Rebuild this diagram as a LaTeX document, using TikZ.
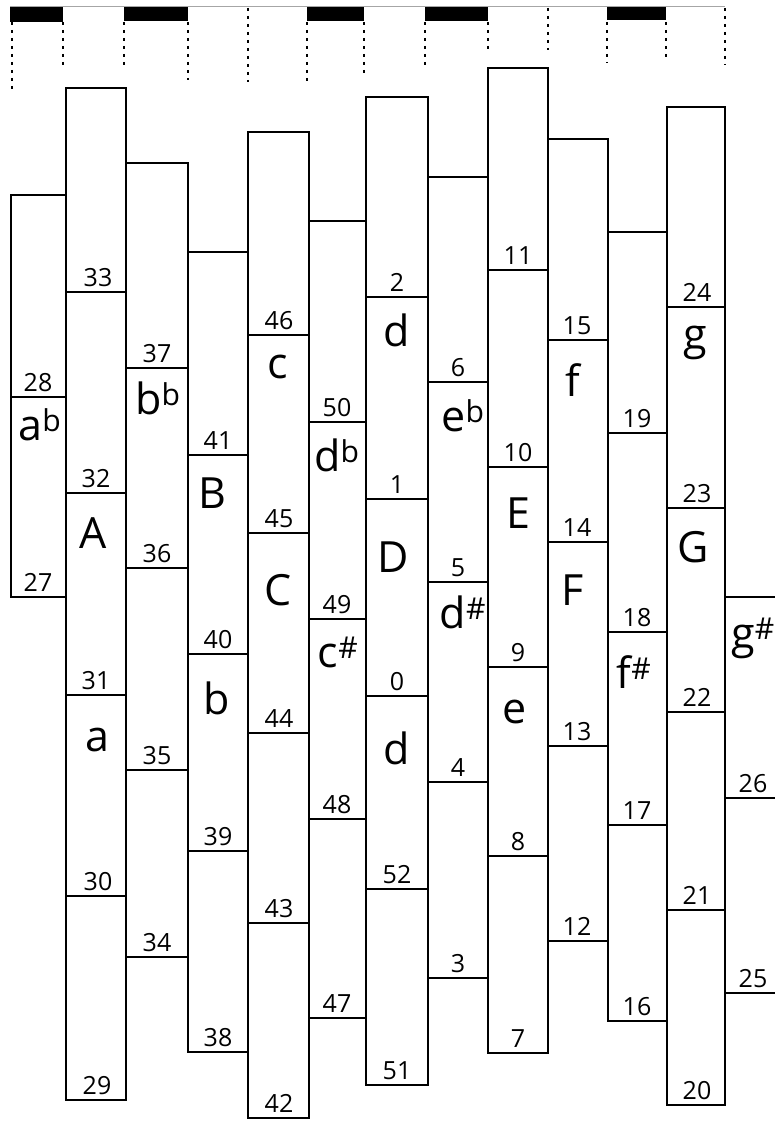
\documentclass[tikz,border=0pt]{standalone}
\usepackage{fontspec}
\setmainfont{Open Sans}
\begin{document}
\begin{tikzpicture}[
    x=1pt, y=-1pt,
    strip/.style={draw, line width=1.6pt},
    guia/.style={draw, line width=1.1pt, dash pattern=on 3pt off 5pt},
    tecla/.style={fill=black},
    num/.style={anchor=base, inner sep=0pt, font=\fontsize{25}{25}\selectfont},
    nota/.style={inner sep=0pt, font=\fontsize{43}{43}\selectfont}
]
    \useasboundingbox (0,0) rectangle (775,1129);

    % Teclado
    \draw[gray!70, line width=0.8pt] (10,6) -- (725,6);
    \fill[tecla] (10,7) rectangle (63,22);
    \fill[tecla] (124,7) rectangle (188,21);
    \fill[tecla] (307,7) rectangle (364,21);
    \fill[tecla] (425,7) rectangle (488,21);
    \fill[tecla] (607,7) rectangle (666,20);
    \draw[guia] (12,22) -- (12,90);
    \draw[guia] (63,22) -- (63,65);
    \draw[guia] (124,22) -- (124,67);
    \draw[guia] (188,22) -- (188,80);
    \draw[guia] (248,8) -- (248,82);
    \draw[guia] (307,22) -- (307,82);
    \draw[guia] (364,22) -- (364,76);
    \draw[guia] (425,22) -- (425,68);
    \draw[guia] (488,22) -- (488,52);
    \draw[guia] (548,8) -- (548,50);
    \draw[guia] (607,22) -- (607,63);
    \draw[guia] (666,22) -- (666,60);
    \draw[guia] (725,8) -- (725,65);

    % Columnas
    \draw[strip] (11,195) rectangle (66,597) (11,397) -- (66,397);
    \draw[strip] (66,88) rectangle (126,1100) (66,292) -- (126,292) (66,493) -- (126,493)
        (66,695) -- (126,695) (66,896) -- (126,896);
    \draw[strip] (126,163) rectangle (188,957) (126,368) -- (188,368) (126,568) -- (188,568)
        (126,770) -- (188,770);
    \draw[strip] (188,252) rectangle (248,1052) (188,455) -- (248,455) (188,654) -- (248,654)
        (188,851) -- (248,851);
    \draw[strip] (248,132) rectangle (309,1118) (248,335) -- (309,335) (248,533) -- (309,533)
        (248,733) -- (309,733) (248,923) -- (309,923);
    \draw[strip] (309,221) rectangle (366,1018) (309,422) -- (366,422) (309,619) -- (366,619)
        (309,819) -- (366,819);
    \draw[strip] (366,97) rectangle (428,1085) (366,297) -- (428,297) (366,499) -- (428,499)
        (366,696) -- (428,696) (366,889) -- (428,889);
    \draw[strip] (428,177) rectangle (488,978) (428,382) -- (488,382) (428,582) -- (488,582)
        (428,782) -- (488,782);
    \draw[strip] (488,68) rectangle (548,1053) (488,270) -- (548,270) (488,467) -- (548,467)
        (488,667) -- (548,667) (488,856) -- (548,856);
    \draw[strip] (548,139) rectangle (608,941) (548,340) -- (608,340) (548,542) -- (608,542)
        (548,746) -- (608,746);
    \draw[strip] (608,232) rectangle (667,1021) (608,433) -- (667,433) (608,632) -- (667,632)
        (608,825) -- (667,825);
    \draw[strip] (667,107) rectangle (725,1105) (667,307) -- (725,307) (667,508) -- (725,508)
        (667,712) -- (725,712) (667,910) -- (725,910);
    \draw[strip] (775,597) -- (725,597) -- (725,993) -- (775,993) (725,798) -- (775,798);

    % Numeros
    \node[num] (n28) at (38,391) {28};
    \node[num] (n27) at (38,591) {27};
    \node[num] (n33) at (98,286) {33};
    \node[num] (n32) at (96,487) {32};
    \node[num] (n31) at (96,689) {31};
    \node[num] (n30) at (98,890) {30};
    \node[num] (n29) at (97,1094) {29};
    \node[num] (n37) at (157,362) {37};
    \node[num] (n36) at (157,562) {36};
    \node[num] (n35) at (157,764) {35};
    \node[num] (n34) at (157,951) {34};
    \node[num] (n41) at (218,449) {41};
    \node[num] (n40) at (218,648) {40};
    \node[num] (n39) at (218,845) {39};
    \node[num] (n38) at (218,1046) {38};
    \node[num] (n46) at (279,329) {46};
    \node[num] (n45) at (279,527) {45};
    \node[num] (n44) at (279,727) {44};
    \node[num] (n43) at (279,917) {43};
    \node[num] (n42) at (279,1112) {42};
    \node[num] (n50) at (337,416) {50};
    \node[num] (n49) at (337,613) {49};
    \node[num] (n48) at (337,813) {48};
    \node[num] (n47) at (337,1012) {47};
    \node[num] (n2)  at (397,291) {2};
    \node[num] (n1)  at (397,493) {1};
    \node[num] (n0)  at (397,690) {0};
    \node[num] (n52) at (397,883) {52};
    \node[num] (n51) at (397,1079) {51};
    \node[num] (n6)  at (458,376) {6};
    \node[num] (n5)  at (458,576) {5};
    \node[num] (n4)  at (458,776) {4};
    \node[num] (n3)  at (458,972) {3};
    \node[num] (n11) at (518,264) {11};
    \node[num] (n10) at (518,461) {10};
    \node[num] (n9)  at (518,661) {9};
    \node[num] (n8)  at (518,850) {8};
    \node[num] (n7)  at (518,1047) {7};
    \node[num] (n15) at (577,334) {15};
    \node[num] (n14) at (577,536) {14};
    \node[num] (n13) at (577,740) {13};
    \node[num] (n12) at (577,935) {12};
    \node[num] (n19) at (637,427) {19};
    \node[num] (n18) at (637,626) {18};
    \node[num] (n17) at (637,819) {17};
    \node[num] (n16) at (637,1015) {16};
    \node[num] (n24) at (697,301) {24};
    \node[num] (n23) at (697,502) {23};
    \node[num] (n22) at (697,706) {22};
    \node[num] (n21) at (697,904) {21};
    \node[num] (n20) at (697,1099) {20};
    \node[num] (n26) at (753,792) {26};
    \node[num] (n25) at (753,987) {25};

    % Notas
    \node[nota] (ab)  at (40,425)  {a\textsuperscript{b}};
    \node[nota] (A)   at (93,533)  {A};
    \node[nota] (a)   at (97,740)  {a};
    \node[nota] (bb)  at (158,398) {b\textsuperscript{b}};
    \node[nota] (B)   at (212,493) {B};
    \node[nota] (b)   at (217,698) {b};
    \node[nota] (c)   at (278,367) {c};
    \node[nota] (C)   at (278,590) {C};
    \node[nota] (db)  at (337,455) {d\textsuperscript{b}};
    \node[nota] (cs)  at (338,652) {c\textsuperscript{\#}};
    \node[nota] (d)   at (397,330) {d};
    \node[nota] (D)   at (393,557) {D};
    \node[nota] (dd)  at (397,748) {d};
    \node[nota] (eb)  at (463,416) {e\textsuperscript{b}};
    \node[nota] (ds)  at (463,612) {d\textsuperscript{\#}};
    \node[nota] (E)   at (518,513) {E};
    \node[nota] (e)   at (515,712) {e};
    \node[nota] (f)   at (573,380) {f};
    \node[nota] (F)   at (573,590) {F};
    \node[nota] (fs)  at (634,672) {f\textsuperscript{\#}};
    \node[nota] (g)   at (695,343) {g};
    \node[nota] (G)   at (693,547) {G};
    \node[nota] (gs)  at (753,638) {g\textsuperscript{\#}};
\end{tikzpicture}
\end{document}
